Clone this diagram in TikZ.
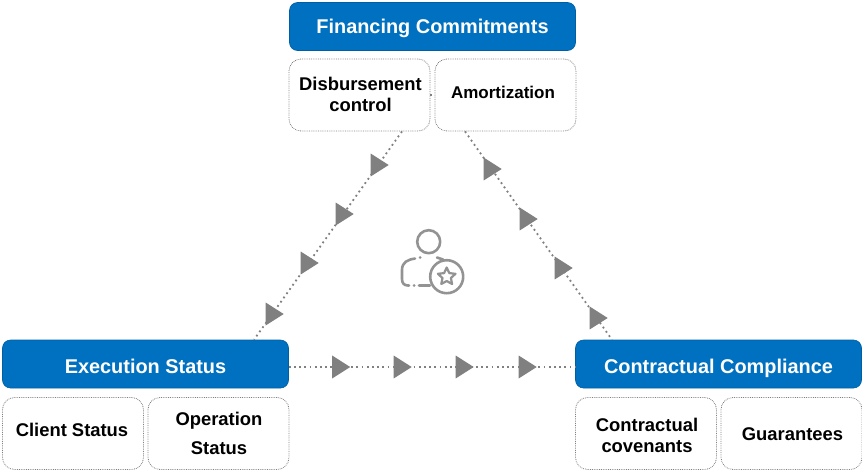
\documentclass[tikz,border=0pt]{standalone}
\usepackage{fontspec}
\setmainfont{Liberation Sans}
\usetikzlibrary{shapes.geometric}
\definecolor{headblue}{RGB}{0,112,192}
\definecolor{dotgray}{RGB}{128,128,128}
\begin{document}
\begin{tikzpicture}[x=1pt,y=-1pt]
          \tikzstyle{head}=[draw=headblue!85!black,line width=0.6pt,fill=headblue,rounded corners=8pt,minimum width=286pt,minimum height=48pt,inner sep=0pt,text=white,text height=14pt,text depth=0pt,font=\fontsize{19.9}{22}\selectfont\bfseries];
          \tikzstyle{sub}=[draw=dotgray,densely dotted,line width=0.8pt,rounded corners=12pt,minimum width=141pt,minimum height=72pt,inner sep=0pt,align=center,font=\fontsize{18.4}{21.5}\selectfont\bfseries];
          \tikzstyle{label}=[font=\fontsize{18.4}{21.5}\selectfont\bfseries,align=center];
          \tikzstyle{link}=[draw=dotgray,line width=1.8pt,dash pattern=on 1.8pt off 3.4pt];
          \tikzstyle{marker}=[draw=none,fill=dotgray,shape=isosceles triangle,isosceles triangle apex angle=65,minimum width=20pt,minimum height=18pt,inner sep=0pt];
          \tikzstyle{icon}=[draw=dotgray!85,line width=2.6pt,line cap=round,line join=round];
          \useasboundingbox (0,0) rectangle (862,472);
          %boxes
          \node[head] (commit) at (432.5,26.5) {Financing Commitments};
          \node[head,text height=18pt] (exec) at (145.5,364) {Execution Status};
          \node[head,text height=18pt] (comply) at (718.5,364) {Contractual Compliance};
          \node[sub] (disb) at (359.5,95) {};
          \node[sub] (amort) at (505.5,95) {};
          \node[sub] (client) at (73,433.5) {};
          \node[sub] (oper) at (218.5,433.5) {};
          \node[sub] (coven) at (646,433.5) {};
          \node[sub] (guar) at (791.5,433.5) {};
          \node[label] (disbtext) at (360.5,94.5) {Disbursement\\control};
          \node[label,font=\fontsize{17}{21.5}\selectfont\bfseries] (amorttext) at (503,92) {Amortization};
          \node[label] (clienttext) at (72,429.5) {Client Status};
          \node[label] (opertext) at (219,433.5) {Operation\\[7pt]Status};
          \node[label] (coventext) at (647,435.5) {Contractual\\covenants};
          \node[label] (guartext) at (792.5,434) {Guarantees};
          %connectors
          \draw[link] (disb.east)--(amort.west);
          \draw[link] ([xshift=42.5pt]disb.south)--([xshift=108.5pt]exec.north);
          \draw[link] ([xshift=-40.5pt]amort.south)--([xshift=-106.5pt]comply.north);
          \draw[link] ([yshift=-3pt]exec.east)--([yshift=-3pt]comply.west);
          %triangles
          \node[marker] (m1) at (377,165) {};
          \node[marker] (m2) at (342,214) {};
          \node[marker] (m3) at (307,263) {};
          \node[marker] (m4) at (272,314) {};
          \node[marker] (m5) at (490,169) {};
          \node[marker] (m6) at (526,219) {};
          \node[marker] (m7) at (561,268) {};
          \node[marker] (m8) at (596,318) {};
          \node[marker] (m9) at (338.5,367) {};
          \node[marker] (m10) at (400,367) {};
          \node[marker] (m11) at (462,367) {};
          \node[marker] (m12) at (525,367) {};
          %person icon
          \draw[icon] (428.7,241.7) circle (11.5);
          \draw[icon] (415,258.5) .. controls (408,259.5) and (402,262) .. (402,270)--(402,279) .. controls (402,283) and (404,285.5) .. (408,285.5)--(409,285.5);
          \draw[icon] (414,285.5)--(414.2,285.5);
          \draw[icon] (419,285.5)--(430,285.5);
          \draw[icon] (420,257.5)--(420.2,257.5);
          \draw[icon] (437,257.5)--(443,259.5);
          \draw[icon] (446.7,276.7) circle (16.5);
          \draw[icon,line width=2.2pt] (446.7,267.5)--(449.3,273.1)--(455.5,273.8)--(450.9,278)--(452.1,284)--(446.7,281)--(441.3,284)--(442.5,278)--(437.9,273.8)--(444.1,273.1)--cycle;
      \end{tikzpicture}
\end{document}
